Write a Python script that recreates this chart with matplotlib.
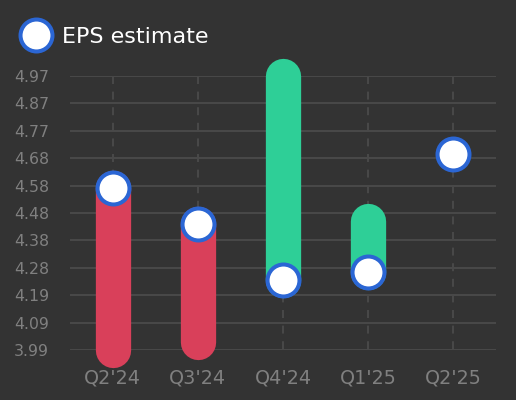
import matplotlib
matplotlib.use('Agg')
import matplotlib.pyplot as plt
import numpy as np
from matplotlib.lines import Line2D

# === Data ===
quarters = ["Q2'24", "Q3'24", "Q4'24", "Q1'25", "Q2'25"]
eps_estimate = [4.57, 4.44, 4.24, 4.27, 4.69]
eps_actual = [3.99, 4.02, 4.97, 4.45, None]
y_ticks = np.linspace(3.99, 4.97, 11)

BG = '#333333'
GRID = '#484848'
RED = '#d9405a'
GREEN = '#2ecf97'
BLUE = '#2b66d4'
LABEL = '#808080'

fig = plt.figure(figsize=(5.16, 4.0), dpi=100, facecolor=BG)
ax = fig.add_axes([70 / 516, 50 / 400, 426 / 516, 274 / 400])
ax.set_facecolor(BG)

x = np.arange(len(quarters))

# horizontal grid
for t in y_ticks:
    ax.axhline(t, color=GRID, lw=1.44, zorder=0)
# vertical dashed grid
for xi in x:
    ax.plot([xi, xi], [y_ticks[-1], y_ticks[0]], color=GRID, lw=1.44,
            ls=(0, (4, 3.8)), zorder=0)

# actual vs estimate bars
for xi, est, act in zip(x, eps_estimate, eps_actual):
    if act is None:
        continue
    c = GREEN if act >= est else RED
    ax.plot([xi, xi], [est, act], color=c, lw=25.4, solid_capstyle='round',
            zorder=2, clip_on=False)

ax.plot(x, eps_estimate, ls='none', marker='o', ms=23, mfc='white', mec=BLUE,
        mew=2.9, zorder=3, clip_on=False)

ax.set_xlim(-0.5, len(quarters) - 0.5)
ax.set_ylim(y_ticks[0], y_ticks[-1])
ax.set_yticks(y_ticks)
ax.set_yticklabels([f'{t:.2f}' for t in y_ticks])
ax.set_xticks(x)
ax.set_xticklabels(quarters)
ax.tick_params(axis='y', length=0, pad=15, labelsize=11.3, labelcolor=LABEL)
ax.tick_params(axis='x', length=0, pad=13, labelsize=13.8, labelcolor=LABEL)
for s in ax.spines.values():
    s.set_visible(False)

# legend
handle = Line2D([], [], ls='none', marker='o', ms=23, mfc='white', mec=BLUE, mew=2.9)
leg = fig.legend([handle], ['EPS estimate'], loc='center left',
                 bbox_to_anchor=(9 / 516, 1 - 37 / 400), frameon=False,
                 fontsize=16, handletextpad=0.5, borderpad=0, handlelength=1.4)
for t in leg.get_texts():
    t.set_color('white')

fig.savefig('out.png', dpi=100, facecolor=BG)
